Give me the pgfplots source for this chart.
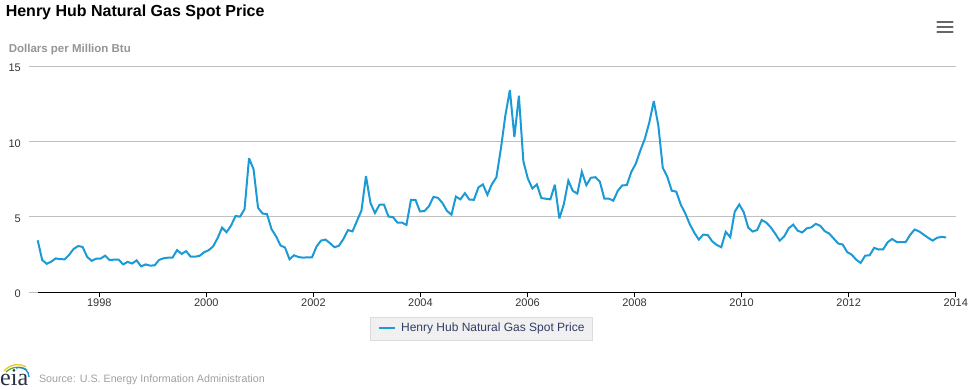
\documentclass[border=0pt]{standalone}
\usepackage{pgfplots}
\pgfplotsset{compat=1.18}
\usepackage{pgfplotstable}
\usepackage{fontspec}
\setmainfont{Liberation Sans}
\newfontfamily\seriffont{Liberation Serif}
\definecolor{linec}{HTML}{1B9AD6}
\definecolor{gridc}{HTML}{C0C0C0}
\definecolor{labc}{HTML}{333333}
\definecolor{ytitc}{HTML}{959595}
\definecolor{legfill}{HTML}{F0F0F0}
\definecolor{legdraw}{HTML}{DCDCDC}
\definecolor{legtext}{HTML}{333C66}
\definecolor{srcc}{HTML}{A0A0A0}
\definecolor{menuc}{HTML}{666666}
\definecolor{eiatext}{HTML}{2A2F45}

% Henry Hub monthly spot price, Jan 1997 - Nov 2013 (one line per year)
\pgfplotstableread[row sep=\\]{
price\\
3.45\\ 2.15\\ 1.89\\ 2.03\\ 2.25\\ 2.20\\ 2.19\\ 2.49\\ 2.88\\ 3.07\\ 3.01\\ 2.35\\
2.09\\ 2.23\\ 2.24\\ 2.43\\ 2.14\\ 2.17\\ 2.17\\ 1.85\\ 2.02\\ 1.91\\ 2.12\\ 1.72\\
1.85\\ 1.77\\ 1.79\\ 2.15\\ 2.26\\ 2.30\\ 2.31\\ 2.80\\ 2.55\\ 2.73\\ 2.37\\ 2.36\\
2.42\\ 2.66\\ 2.79\\ 3.04\\ 3.59\\ 4.29\\ 3.99\\ 4.43\\ 5.06\\ 5.02\\ 5.52\\ 8.90\\
8.17\\ 5.61\\ 5.23\\ 5.19\\ 4.19\\ 3.72\\ 3.11\\ 2.97\\ 2.19\\ 2.46\\ 2.34\\ 2.30\\
2.32\\ 2.32\\ 3.03\\ 3.43\\ 3.50\\ 3.26\\ 2.99\\ 3.09\\ 3.55\\ 4.13\\ 4.04\\ 4.74\\
5.43\\ 7.71\\ 5.93\\ 5.26\\ 5.81\\ 5.82\\ 5.03\\ 4.99\\ 4.62\\ 4.63\\ 4.47\\ 6.13\\
6.14\\ 5.37\\ 5.39\\ 5.71\\ 6.33\\ 6.27\\ 5.93\\ 5.41\\ 5.15\\ 6.35\\ 6.17\\ 6.58\\
6.15\\ 6.14\\ 6.96\\ 7.16\\ 6.47\\ 7.18\\ 7.63\\ 9.53\\ 11.75\\ 13.42\\ 10.30\\ 13.05\\
8.69\\ 7.54\\ 6.89\\ 7.16\\ 6.25\\ 6.21\\ 6.17\\ 7.14\\ 4.90\\ 5.85\\ 7.41\\ 6.73\\
6.55\\ 8.00\\ 7.11\\ 7.60\\ 7.64\\ 7.35\\ 6.22\\ 6.22\\ 6.08\\ 6.74\\ 7.10\\ 7.11\\
7.99\\ 8.54\\ 9.41\\ 10.18\\ 11.27\\ 12.69\\ 11.09\\ 8.26\\ 7.67\\ 6.74\\ 6.68\\ 5.82\\
5.24\\ 4.52\\ 3.96\\ 3.50\\ 3.83\\ 3.80\\ 3.38\\ 3.14\\ 2.99\\ 4.01\\ 3.66\\ 5.35\\
5.83\\ 5.32\\ 4.29\\ 4.03\\ 4.14\\ 4.80\\ 4.63\\ 4.32\\ 3.89\\ 3.43\\ 3.71\\ 4.25\\
4.49\\ 4.09\\ 3.97\\ 4.24\\ 4.31\\ 4.54\\ 4.42\\ 4.06\\ 3.90\\ 3.57\\ 3.24\\ 3.17\\
2.67\\ 2.50\\ 2.17\\ 1.95\\ 2.43\\ 2.46\\ 2.95\\ 2.84\\ 2.85\\ 3.32\\ 3.54\\ 3.34\\
3.33\\ 3.33\\ 3.81\\ 4.17\\ 4.04\\ 3.83\\ 3.62\\ 3.43\\ 3.62\\ 3.68\\ 3.64\\
}\hhdata

\begin{document}
\begin{tikzpicture}
\path[use as bounding box] (0pt,0pt) rectangle (977pt,389pt);

% title and axis title
\node[anchor=base west, inner sep=0pt, font=\bfseries\fontsize{16}{19}\selectfont] at (5.6pt,372pt) {Henry Hub Natural Gas Spot Price};
\node[anchor=base west, inner sep=0pt, font=\bfseries\fontsize{11.5}{14}\selectfont, text=ytitc] at (8.6pt,336.6pt) {Dollars per Million Btu};

% menu icon
\foreach \yy in {367,362,357}{
  \draw[menuc, line width=2.6pt, line cap=round] (937.5pt,\yy pt) -- (952.5pt,\yy pt);
}

\begin{axis}[
  at={(29pt,96.7pt)}, anchor=south west,
  scale only axis, width=927pt, height=226pt,
  xmin=-1.93, xmax=204.2, ymin=0, ymax=15,
  axis line style={draw=none},
  xtick={13.70,37.50,61.31,85.11,108.92,132.72,156.53,180.33,204.14},
  xticklabels={1998,2000,2002,2004,2006,2008,2010,2012,2014},
  ytick={0,5,10,15},
  yticklabels={0,5,10,15},
  tick pos=left,
  tick align=outside,
  major tick length=5pt,
  xtick style={draw=black, line width=1pt},
  ytick style={draw=none},
  ymajorgrids,
  grid style={draw=gridc, line width=1pt},
  xticklabel style={inner sep=0pt, anchor=north, font=\fontsize{11}{13}\selectfont, text=labc},
  yticklabel style={inner sep=0pt, anchor=east, font=\fontsize{11}{13}\selectfont, text=labc, yshift=-1.8pt},
  xticklabel shift=1pt,
  yticklabel shift=3pt,
  legend style={at={(0.4878,-0.1593)}, anchor=center, fill=legfill, draw=legdraw,
    font=\fontsize{12}{14}\selectfont, text=legtext,
    nodes={inner sep=0pt}, inner xsep=8pt, inner ysep=6.5pt,
    /tikz/every odd column/.append style={column sep=5.6pt}},
  legend cell align=left,
  legend image code/.code={\draw[#1] (0pt,0pt) -- (15.7pt,0pt);},
]
\addplot[linec, line width=2pt, miter limit=4] table[x expr=\coordindex, y=price] {\hhdata};
\addlegendentry{Henry Hub Natural Gas Spot Price\hspace{3.5pt}}
\draw[black, line width=1pt] (axis cs:0,0) -- (axis cs:204.14,0);
\end{axis}

% source line and logo
\node[anchor=base west, inner sep=0pt, font=\fontsize{10.7}{13}\selectfont, text=srcc] at (38.8pt,6.7pt) {Source: U.S. Energy Information Administration};
\node[anchor=base west, inner sep=0pt, font=\seriffont\fontsize{24}{24}\selectfont, text=eiatext] at (0pt,3.5pt) {eia};
\draw[line width=1.3pt, color={rgb,255:red,240;green,196;blue,40}] (4pt,18pt) .. controls (10pt,25pt) and (20pt,26pt) .. (26pt,22pt);
\draw[line width=1.3pt, color={rgb,255:red,90;green,176;blue,48}] (6pt,17pt) .. controls (12pt,23pt) and (22pt,23pt) .. (27pt,19pt);
\draw[line width=1.3pt, color={rgb,255:red,30;green,144;blue,208}] (16pt,21pt) .. controls (24pt,23pt) and (29pt,18pt) .. (29pt,12pt);
\end{tikzpicture}
\end{document}
